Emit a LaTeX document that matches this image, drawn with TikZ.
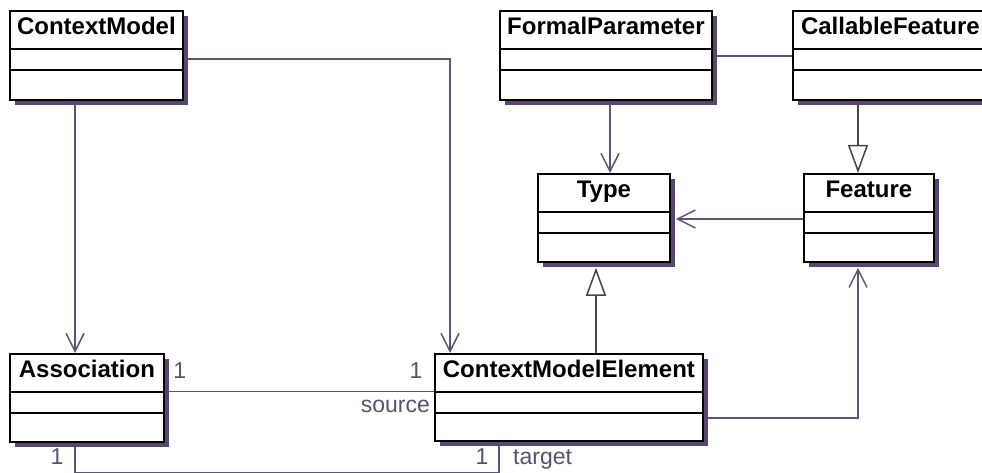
\documentclass[tikz,border=0pt]{standalone}
\usepackage{fontspec}
\setmainfont{Liberation Sans}
\usetikzlibrary{arrows.meta,shadows,calc}
\definecolor{linecol}{RGB}{96,82,122}
\definecolor{shadowcol}{RGB}{88,72,112}
\definecolor{gencol}{RGB}{64,70,74}
\definecolor{labcol}{RGB}{92,80,112}
\pgfdeclarelayer{background}
\pgfsetlayers{background,main}
\tikzset{
  umlclass/.style={draw=black, line width=1.8pt, fill=white, rectangle, inner sep=0pt, anchor=north west,
    drop shadow={shadow xshift=5pt, shadow yshift=-5pt, fill=shadowcol, opacity=1},
    path picture={\draw[line width=1.3pt]
      ([yshift=-38pt]path picture bounding box.north west) -- ([yshift=-38pt]path picture bounding box.north east)
      ([yshift=-59pt]path picture bounding box.north west) -- ([yshift=-59pt]path picture bounding box.north east);}},
  title/.style={anchor=base, yshift=-24.5pt, font=\bfseries\fontsize{24}{28}\selectfont, text=black, inner sep=0pt},
  assocline/.style={draw=linecol, line width=1.5pt},
  navline/.style={assocline, -{Straight Barb[length=18pt,width=18pt]}},
  genline/.style={draw=gencol, line width=1.5pt, -{Triangle[length=28pt,width=20pt,fill=white]}},
  mult/.style={font=\fontsize{23}{27}\selectfont, text=labcol, inner sep=0pt}
}
\begin{document}
\begin{tikzpicture}[x=1pt,y=-1pt]
\useasboundingbox (0,0) rectangle (982,473);
% classes
\node[umlclass, minimum width=173pt, minimum height=89pt, label={[title]north:ContextModel}] (cm) at (9,10) {};
\node[umlclass, minimum width=212pt, minimum height=89pt, label={[title]north:FormalParameter}] (fp) at (499,10) {};
\node[umlclass, minimum width=195pt, minimum height=89pt, label={[title]north:CallableFeature}] (cf) at (792,10) {};
\node[umlclass, minimum width=132pt, minimum height=88pt, label={[title]north:Type}] (type) at (537,173) {};
\node[umlclass, minimum width=130pt, minimum height=88pt, label={[title]north:Feature}] (feat) at (803,173) {};
\node[umlclass, minimum width=154pt, minimum height=88pt, label={[title]north:Association}] (assoc) at (9,353) {};
\node[umlclass, minimum width=268pt, minimum height=87pt, label={[title]north:ContextModelElement}] (cme) at (434,353) {};
% helper coordinates
\coordinate (g1) at ([xshift=59pt]type.south west);
\coordinate (g2) at ([xshift=55pt]feat.north west);
\coordinate (g3) at (g2 |- feat.south);
\coordinate (fpx) at ([xshift=111pt]fp.south west);
\coordinate (b1) at ([xshift=66pt]assoc.south west);
\coordinate (b2) at ([xshift=65pt]cme.south west);
% connectors
\begin{pgfonlayer}{background}
\draw[navline] ([xshift=66pt]cm.south west) -- ([xshift=66pt]assoc.north west);
\draw[navline] ([yshift=-49pt]cm.north east) -| ([xshift=16pt]cme.north west);
\draw[navline] (fpx) -- (fpx |- type.north);
\draw[assocline] ([yshift=-46pt]fp.north east) -- ([yshift=-46pt]cf.north west);
\draw[genline] (g2 |- cf.south) -- (g2);
\draw[navline] ([yshift=-46pt]feat.north west) -- ([xshift=5pt,yshift=-46pt]type.north east);
\draw[genline] (g1 |- cme.north) -- ([yshift=-5pt]g1);
\draw[assocline] ([yshift=-38.5pt]assoc.north east) -- ([yshift=-38.5pt]cme.north west);
\draw[assocline] (b1) |- ([yshift=-31pt]b2) -- (b2);
\draw[navline] ([yshift=-65pt]cme.north east) -| ([yshift=-5pt]g3);
\end{pgfonlayer}
% multiplicities and roles
\node[mult, anchor=base] (a1) at ([xshift=15pt,yshift=-25pt]assoc.north east) {1};
\node[mult, anchor=base] (c1) at ([xshift=-18pt,yshift=-25pt]cme.north west) {1};
\node[mult, anchor=base east] (src) at ([xshift=-4pt,yshift=-59pt]cme.north west) {source};
\node[mult, anchor=base] (a2) at ([xshift=48pt,yshift=-22pt]assoc.south west) {1};
\node[mult, anchor=base] (c2) at ([xshift=48pt,yshift=-23pt]cme.south west) {1};
\node[mult, anchor=base west] (tgt) at ([xshift=79pt,yshift=-23pt]cme.south west) {target};
\end{tikzpicture}
\end{document}
